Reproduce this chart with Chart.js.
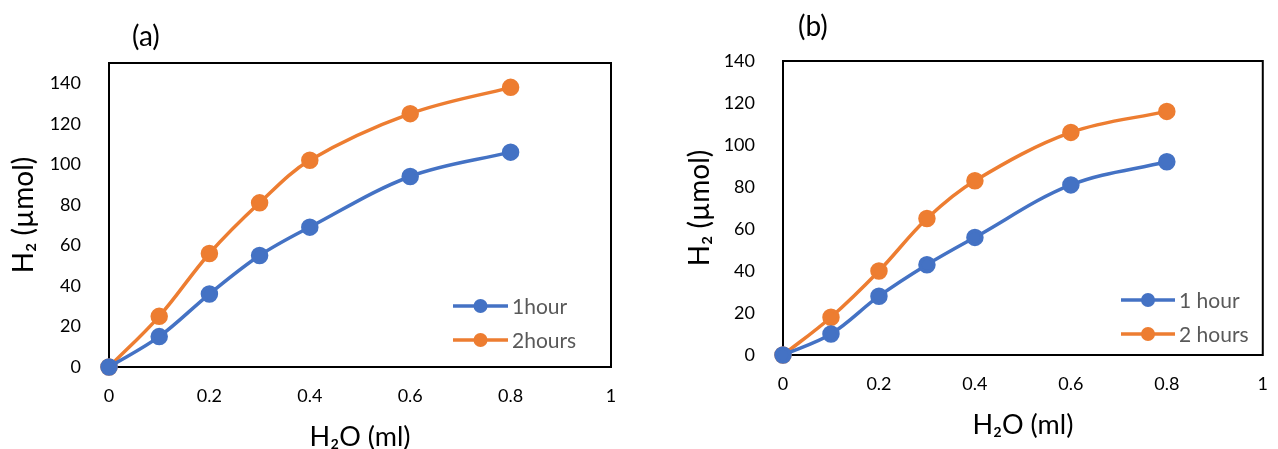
<!DOCTYPE html>
<html>
<head>
<meta charset="utf-8">
<script src="https://cdn.jsdelivr.net/npm/chart.js@4.4.1/dist/chart.umd.min.js"></script>
<style>
  html, body { margin: 0; padding: 0; background: #fff; }
  #wrap { position: relative; width: 1278px; height: 449px; overflow: hidden; font-family: Lato, 'Noto Sans', sans-serif; }
  .panel { position: absolute; top: 0; height: 449px; }
  .tag { position: absolute; font-size: 28px; color: #000; line-height: 1; }
</style>
</head>
<body>
<div id="wrap">
  <div class="panel" style="left:0;width:640px"><canvas id="chartA"></canvas></div>
  <div class="panel" style="left:640px;width:638px"><canvas id="chartB"></canvas></div>
  <div class="tag" style="left:132px;top:21px">(a)</div>
  <div class="tag" style="left:798px;top:11px">(b)</div>
</div>
<script>
// x values (ml of water) and axis ticks
const waterMl = [0, 0.1, 0.2, 0.3, 0.4, 0.6, 0.8];
const xTicks = [0, 0.2, 0.4, 0.6, 0.8, 1];
const yTicks = [0, 20, 40, 60, 80, 100, 120, 140];

// panel (a)
const oneHourA = [0, 15, 36, 55, 69, 94, 106];
const twoHoursA = [0, 25, 56, 81, 102, 125, 138];
// panel (b)
const oneHourB = [0, 10, 28, 43, 56, 81, 92];
const twoHoursB = [0, 18, 40, 65, 83, 106, 116];

const BLUE = '#4472C4';
const ORANGE = '#ED7D31';

Chart.defaults.font.family = "Lato, 'Noto Sans', sans-serif";
Chart.defaults.color = '#000';

// black frame around the plot area (Excel style)
const plotBox = {
    id: 'plotBox',
    beforeDatasetsDraw(chart) {
        const a = chart.chartArea;
        const ctx = chart.ctx;
        ctx.save();
        ctx.strokeStyle = '#000';
        ctx.lineWidth = 2;
        ctx.strokeRect(a.left, a.top, a.right - a.left, a.bottom - a.top);
        ctx.restore();
    }
};

// legend with line + marker sample, drawn inside the plot
const lineLegend = {
    id: 'lineLegend',
    afterDraw(chart, args, opts) {
        const ctx = chart.ctx;
        ctx.save();
        chart.data.datasets.forEach((ds, i) => {
            const y = opts.y + i * opts.gap;
            ctx.strokeStyle = ds.borderColor;
            ctx.lineWidth = 3.5;
            ctx.beginPath();
            ctx.moveTo(opts.x, y);
            ctx.lineTo(opts.x + opts.len, y);
            ctx.stroke();
            ctx.fillStyle = ds.borderColor;
            ctx.beginPath();
            ctx.arc(opts.x + opts.len / 2, y, 7, 0, Math.PI * 2);
            ctx.fill();
            ctx.fillStyle = '#595959';
            ctx.font = "21px Lato, 'Noto Sans', sans-serif";
            ctx.textBaseline = 'middle';
            ctx.fillText(ds.label, opts.x + opts.len + 4, y + 1);
        });
        ctx.restore();
    }
};

function series(label, values, color) {
    return {
        label: label,
        data: values.map((v, i) => ({ x: waterMl[i], y: v })),
        borderColor: color,
        backgroundColor: color,
        borderWidth: 3.5,
        pointRadius: 7,
        pointHoverRadius: 7,
        tension: 0.35,
        clip: false
    };
}

function makeChart(id, datasets, cfg) {
    return new Chart(document.getElementById(id), {
        type: 'line',
        data: { datasets: datasets },
        plugins: [plotBox, lineLegend],
        options: {
            responsive: false,
            maintainAspectRatio: false,
            animation: false,
            layout: { padding: cfg.padding },
            plugins: {
                legend: { display: false },
                tooltip: { enabled: false },
                lineLegend: cfg.legend
            },
            scales: {
                x: {
                    type: 'linear',
                    min: 0,
                    max: 1,
                    afterBuildTicks: s => { s.ticks = xTicks.map(v => ({ value: v })); },
                    afterFit: s => { s.height = cfg.xHeight; },
                    grid: { display: false },
                    border: { display: false },
                    ticks: { font: { size: 18 }, padding: 10, callback: v => String(v) },
                    title: { display: true, text: 'H₂O (ml)', font: { size: 27, lineHeight: 0.9 }, padding: 0 }
                },
                y: {
                    min: 0,
                    max: cfg.yMax,
                    afterBuildTicks: s => { s.ticks = yTicks.map(v => ({ value: v })); },
                    afterFit: s => { s.width = cfg.yWidth; },
                    grid: { display: false },
                    border: { display: false },
                    ticks: { font: { size: 18 }, padding: 20, callback: v => String(v) },
                    title: { display: true, text: 'H₂ (µmol)', font: { size: 28, lineHeight: 1 }, padding: 0 }
                }
            }
        }
    });
}

function sizeCanvas(id, w, h) {
    const c = document.getElementById(id);
    c.width = w; c.height = h;
    c.style.width = w + 'px'; c.style.height = h + 'px';
}
sizeCanvas('chartA', 640, 449);
sizeCanvas('chartB', 638, 449);

makeChart('chartA', [
    series('1hour', oneHourA, BLUE),
    series('2hours', twoHoursA, ORANGE)
], {
    yMax: 150,
    yWidth: 99,
    xHeight: 82,
    padding: { left: 10, top: 63, right: 29, bottom: 0 },
    legend: { x: 453, y: 306, gap: 34, len: 55 }
});

makeChart('chartB', [
    series('1 hour', oneHourB, BLUE),
    series('2 hours', twoHoursB, ORANGE)
], {
    yMax: 140,
    yWidth: 97,
    xHeight: 82,
    padding: { left: 46, top: 61, right: 6, bottom: 12 },
    legend: { x: 481, y: 300, gap: 34, len: 54 }
});
</script>
</body>
</html>
